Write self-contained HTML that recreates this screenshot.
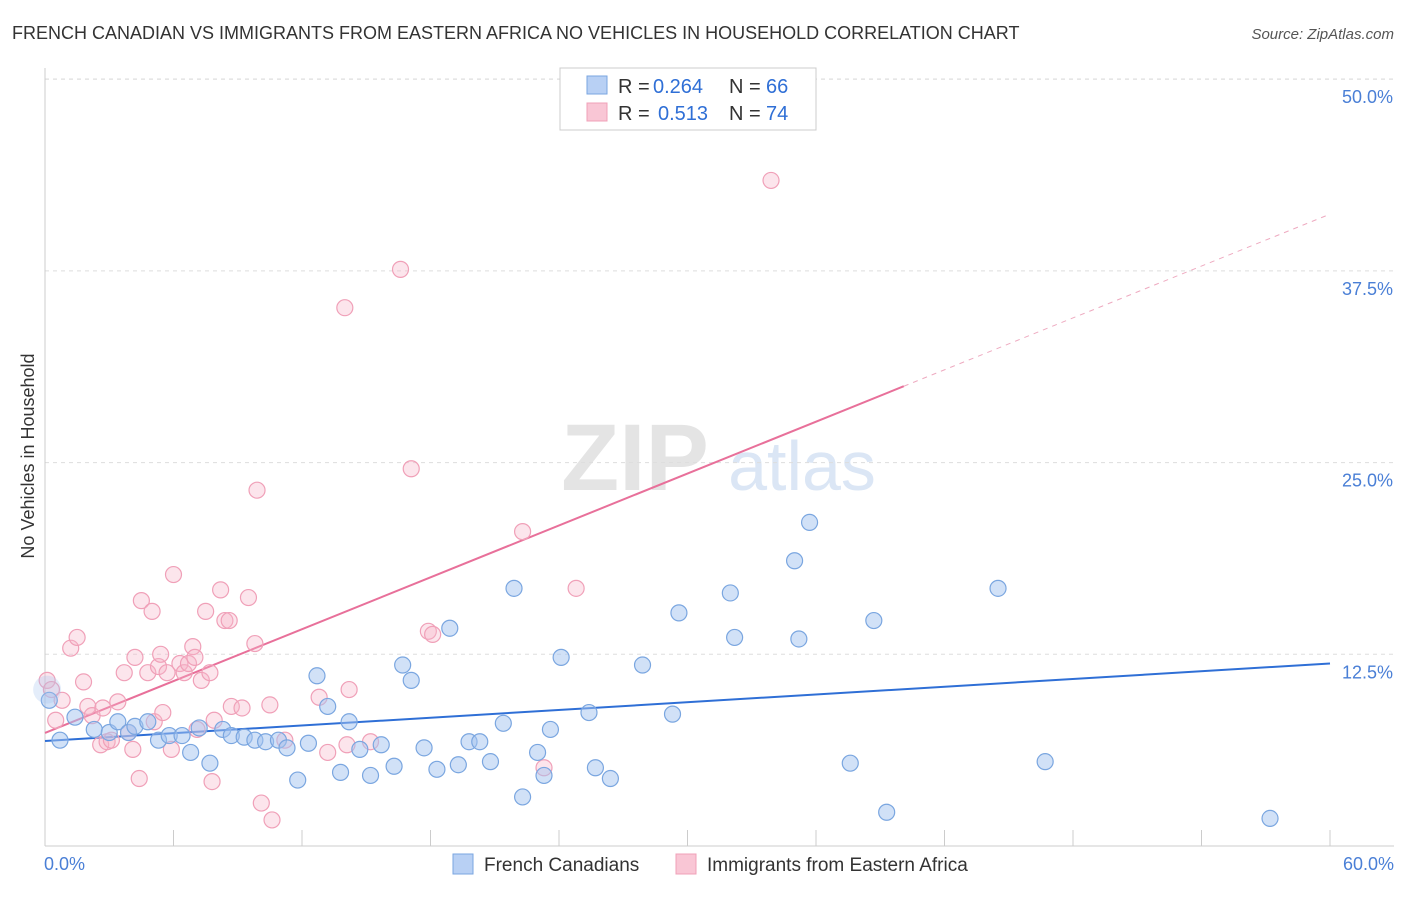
<!DOCTYPE html>
<html><head><meta charset="utf-8">
<style>
body{margin:0;background:#fff;font-family:"Liberation Sans",sans-serif;}
svg text{font-family:"Liberation Sans",sans-serif;}
</style></head>
<body>
<svg id="chart" width="1406" height="892" xmlns="http://www.w3.org/2000/svg">
<text x="12" y="39" font-size="18" fill="#333">FRENCH CANADIAN VS IMMIGRANTS FROM EASTERN AFRICA NO VEHICLES IN HOUSEHOLD CORRELATION CHART</text>
<text x="1394" y="39" font-size="15" fill="#555" text-anchor="end" font-style="italic">Source: ZipAtlas.com</text>
<text transform="translate(34,456) rotate(-90)" font-size="18" fill="#333" text-anchor="middle">No Vehicles in Household</text>
<g>
<text x="635" y="490" font-size="95" fill="#e4e4e4" text-anchor="middle" font-family="Liberation Serif" font-weight="bold">ZIP</text>
<text x="802" y="490" font-size="70" fill="#dbe6f5" text-anchor="middle">atlas</text>
</g>
<g id="grid"></g>
<g id="axes"></g>
<g id="lines"></g>
<g id="points"></g>
<g>
<rect x="560" y="68" width="256" height="62" fill="#fff" stroke="#ccc"/>
<rect x="587" y="76" width="20" height="18" fill="#b8d0f4" stroke="#7aa6e0"/>
<rect x="587" y="103" width="20" height="18" fill="#f9c6d5" stroke="#f0a0b8"/>
<text x="618" y="93" font-size="20" fill="#333">R =</text>
<text x="653" y="93" font-size="20" fill="#2f6fd6">0.264</text>
<text x="729" y="93" font-size="20" fill="#333">N =</text>
<text x="766" y="93" font-size="20" fill="#2f6fd6">66</text>
<text x="618" y="120" font-size="20" fill="#333">R =</text>
<text x="658" y="120" font-size="20" fill="#2f6fd6">0.513</text>
<text x="729" y="120" font-size="20" fill="#333">N =</text>
<text x="766" y="120" font-size="20" fill="#2f6fd6">74</text>
</g>
<g>
<rect x="453" y="854" width="20" height="20" fill="#b8d0f4" stroke="#7aa6e0"/>
<text x="484" y="871" font-size="19" fill="#333">French Canadians</text>
<rect x="676" y="854" width="20" height="20" fill="#f9c6d5" stroke="#f0a0b8"/>
<text x="707" y="871" font-size="19" fill="#333">Immigrants from Eastern Africa</text>
</g>
</svg>
<script>
const yTicks=[12.5,25,37.5,50];
const yTickLabels=["12.5%","25.0%","37.5%","50.0%"];
const xTickCount=11;
const blueX=[0.7,0.2,1.4,2.3,3.0,3.4,3.9,4.2,4.8,5.3,5.8,6.4,6.8,7.2,7.7,8.3,8.7,9.3,9.8,10.3,10.9,11.3,11.8,12.3,12.7,13.2,13.8,14.2,14.7,15.2,15.7,16.3,16.7,17.1,17.7,18.3,18.9,19.3,19.8,20.3,20.8,21.4,21.9,22.3,23.0,23.3,23.6,24.1,25.4,25.7,26.4,27.9,29.3,29.6,32.0,32.2,35.0,35.2,35.7,37.6,38.7,39.3,44.5,46.7,57.2];
const blueY=[6.9,9.5,8.4,7.6,7.4,8.1,7.4,7.8,8.1,6.9,7.2,7.2,6.1,7.7,5.4,7.6,7.2,7.1,6.9,6.8,6.9,6.4,4.3,6.7,11.1,9.1,4.8,8.1,6.3,4.6,6.6,5.2,11.8,10.8,6.4,5.0,14.2,5.3,6.8,6.8,5.5,8.0,16.8,3.2,6.1,4.6,7.6,12.3,8.7,5.1,4.4,11.8,8.6,15.2,16.5,13.6,18.6,13.5,21.1,5.4,14.7,2.2,16.8,5.5,1.8];
const pinkX=[0.1,0.3,0.5,0.8,1.2,1.5,1.8,2.0,2.2,2.6,2.7,2.9,3.1,3.4,3.7,3.9,4.1,4.2,4.4,4.5,4.8,5.0,5.1,5.3,5.4,5.5,5.7,5.9,6.0,6.3,6.5,6.7,6.9,7.0,7.1,7.3,7.5,7.7,7.8,7.9,8.2,8.4,8.6,8.7,9.2,9.5,9.8,9.9,10.1,10.5,10.6,11.2,12.8,13.2,14.0,14.1,14.2,15.2,16.6,17.1,17.9,18.1,22.3,23.3,24.8,33.9];
const pinkY=[10.8,10.2,8.2,9.5,12.9,13.6,10.7,9.1,8.5,6.6,9.0,6.8,6.9,9.4,11.3,7.4,6.3,12.3,4.4,16.0,11.3,15.3,8.1,11.7,12.5,8.7,11.3,6.3,17.7,11.9,11.3,11.9,13.0,12.3,7.6,10.8,15.3,11.3,4.2,8.2,16.7,14.7,14.7,9.1,9.0,16.2,13.2,23.2,2.8,9.2,1.7,6.9,9.7,6.1,35.1,6.6,10.2,6.8,37.6,24.6,14.0,13.8,20.5,5.1,16.8,43.4];
const blueLine=[6.85,11.9];
const pinkLine=[7.37,41.2];
const pinkSolidEnd=40.1;
const X=v=>45+v/60*1285;
const Y=v=>846-v*15.336;
const NS="http://www.w3.org/2000/svg";
function mk(tag,attrs,parent){const e=document.createElementNS(NS,tag);for(const k in attrs)e.setAttribute(k,attrs[k]);document.getElementById(parent).appendChild(e);return e;}
yTicks.forEach((t,i)=>{
 const g=mk('line',{x1:45,x2:1394,y1:Y(t),y2:Y(t),stroke:'#ddd','stroke-dasharray':'4,4'},'grid');
 
 
 const l=mk('text',{x:1393,y:Y(t)+24,'font-size':18,fill:'#4a7fd6','text-anchor':'end'},'axes');
 l.textContent=yTickLabels[i];
 
 
});
const topGrid=mk('line',{x1:45,x2:1394,y1:79,y2:79,stroke:'#ddd','stroke-dasharray':'4,4'},'grid');


const ax=mk('line',{x1:45,x2:1394,y1:846,y2:846,stroke:'#ccc'},'axes');


const ay=mk('line',{x1:45,x2:45,y1:68,y2:846,stroke:'#ccc'},'axes');


for(let i=0;i<xTickCount;i++){
 const t=mk('line',{x1:X(i*6),x2:X(i*6),y1:830,y2:846,stroke:'#ccc'},'axes');
 
 
}
const x0=mk('text',{x:44,y:870,'font-size':18,fill:'#4a7fd6'},'axes');x0.textContent='0.0%';


const x1=mk('text',{x:1394,y:870,'font-size':18,fill:'#4a7fd6','text-anchor':'end'},'axes');x1.textContent='60.0%';


function pts(xs,ys,fill,stroke,name){
 xs.forEach((x,i)=>{
  const c=mk('circle',{cx:X(x),cy:Y(ys[i]),r:8,fill:fill,stroke:stroke,'stroke-width':1.2},'points');
  
  
 });
}
pts(pinkX,pinkY,'rgba(246,180,200,0.35)','#f0a0b8','pink-point');
pts(blueX,blueY,'rgba(164,196,240,0.5)','#7aa6e0','blue-point');
const big1=mk('circle',{cx:X(0.1),cy:Y(10.2),r:14,fill:'rgba(164,196,240,0.3)',stroke:'none'},'points');


const bl=mk('line',{x1:X(0),y1:Y(blueLine[0]),x2:X(60),y2:Y(blueLine[1]),stroke:'#2f6fd6','stroke-width':2},'lines');


const py=x=>pinkLine[0]+(pinkLine[1]-pinkLine[0])*x/60;
const pl=mk('line',{x1:X(0),y1:Y(py(0)),x2:X(pinkSolidEnd),y2:Y(py(pinkSolidEnd)),stroke:'#e8709a','stroke-width':2},'lines');


const pd=mk('line',{x1:X(pinkSolidEnd),y1:Y(py(pinkSolidEnd)),x2:X(60),y2:Y(py(60)),stroke:'#eeaac0','stroke-width':1,'stroke-dasharray':'5,5'},'lines');


</script>
</body></html>
